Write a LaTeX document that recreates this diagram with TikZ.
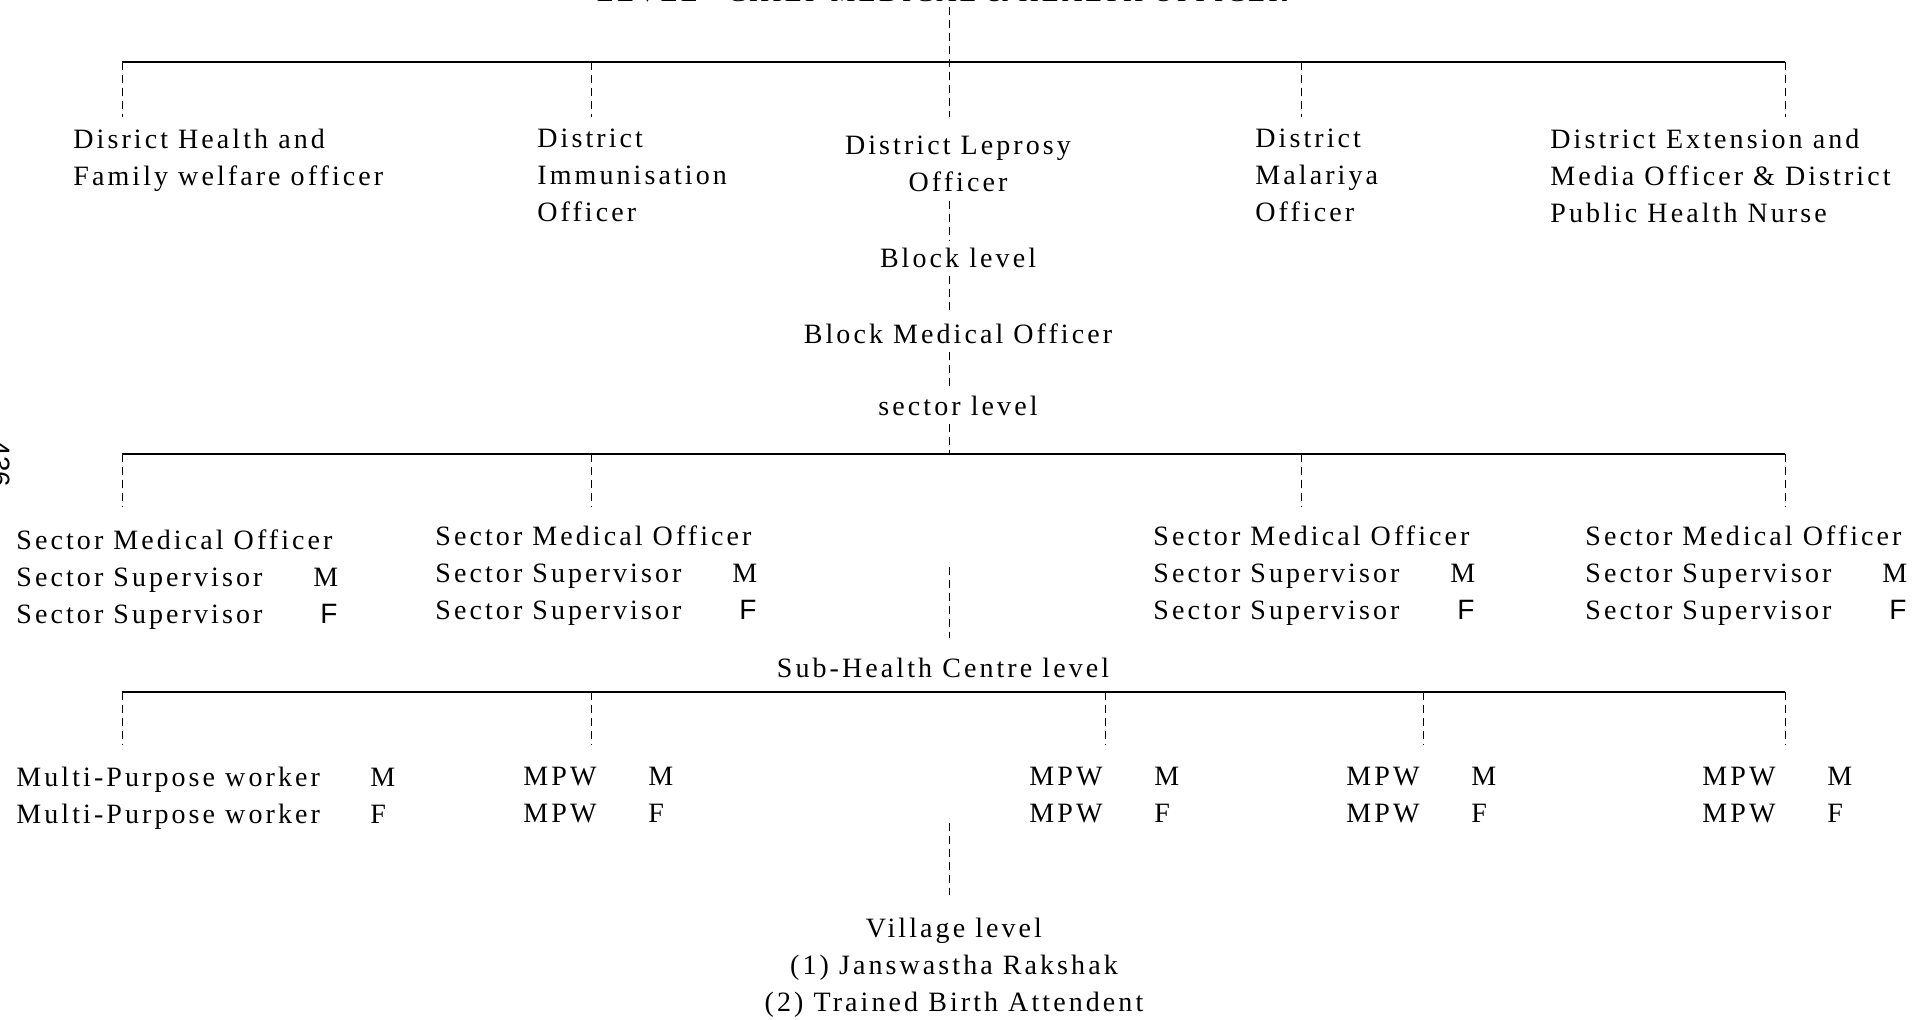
\documentclass[tikz,border=0pt]{standalone}
\usepackage{fontspec}
\setmainfont[LetterSpace=11]{Liberation Serif}
\newfontfamily\arialfont{Liberation Sans}

\begin{document}
\begin{tikzpicture}[x=0.5pt, y=-0.5pt,
    every node/.style={font=\fontsize{14}{18.5}\selectfont, inner sep=2pt},
    post/.style={align=left, anchor=north west},
    level/.style={align=center, anchor=north, inner sep=4pt},
    bus/.style={line width=0.8pt},
    drop/.style={dash pattern=on 4pt off 2.5pt, line width=0.5pt}]
\useasboundingbox (0,0) rectangle (1928,1020);
\coordinate (axis) at (949,0);

% district level
\node[anchor=base] (chief) at (942,2) {LEVEL - CHIEF MEDICAL \& HEALTH OFFICER};
\node[post] (dhfw) at (69,125) {Disrict Health and\\Family welfare officer};
\node[post] (dimm) at (533,125) {District\\Immunisation\\Officer};
\node[level] (dlep) at (958,128) {District Leprosy\\Officer};
\node[post] (dmal) at (1251,125) {District\\Malariya\\Officer};
\node[post] (dext) at (1546,125) {District Extension and\\Media Officer \& District\\Public Health Nurse};
\node[rotate=-90, font=\arialfont\fontsize{14}{16}\selectfont] (page) at (0,464) {436};

\coordinate (tl) at (122,62);
\coordinate (tr) at (1785,62);
\coordinate (d1) at (122,117);
\coordinate (d2) at (591,117);
\coordinate (d3) at (949,117);
\coordinate (d4) at (1301,117);
\coordinate (d5) at (1785,117);
\draw[bus] (tl) -- (tr);
\draw[drop] (tl) -- (d1);
\draw[drop] (tl -| d2) -- (d2);
\draw[drop] (tl -| d4) -- (d4);
\draw[drop] (tl -| d5) -- (d5);
\draw[drop] (chief.south -| axis) -- (d3);

% block level
\node[level] (blk) at (958,240) {Block level};
\node[level] (bmo) at (958,315) {Block Medical Officer};
\node[level] (sec) at (958,388) {sector level};
\draw[drop] (dlep.south -| axis) -- (blk.north -| axis);
\draw[drop] (blk.south -| axis) -- (bmo.north -| axis);
\draw[drop] (bmo.south -| axis) -- (sec.north -| axis);

% sector level
\coordinate (sl) at (122,454);
\coordinate (sr) at (1785,454);
\coordinate (e1) at (122,507);
\coordinate (e2) at (591,507);
\coordinate (e4) at (1301,507);
\coordinate (e5) at (1785,507);
\draw[bus] (sl) -- (sr);
\draw[drop] (sec.south -| axis) -- (sl -| axis);
\draw[drop] (sl) -- (e1);
\draw[drop] (sl -| e2) -- (e2);
\draw[drop] (sl -| e4) -- (e4);
\draw[drop] (sl -| e5) -- (e5);

\node[post] (s1) at (12,525) {Sector Medical Officer\\\makebox[148.5pt][l]{Sector Supervisor}M\\\makebox[152pt][l]{Sector Supervisor}{\arialfont F}};
\node[post] (s2) at (431,521) {Sector Medical Officer\\\makebox[148.5pt][l]{Sector Supervisor}M\\\makebox[152pt][l]{Sector Supervisor}{\arialfont F}};
\node[post] (s3) at (1149,521) {Sector Medical Officer\\\makebox[148.5pt][l]{Sector Supervisor}M\\\makebox[152pt][l]{Sector Supervisor}{\arialfont F}};
\node[post] (s4) at (1581,521) {Sector Medical Officer\\\makebox[148.5pt][l]{Sector Supervisor}M\\\makebox[152pt][l]{Sector Supervisor}{\arialfont F}};

% sub-health centre level
\coordinate (c1) at (949,567);
\coordinate (c2) at (949,638);
\draw[drop] (c1) -- (c2);
\node[level] (shc) at (943,650) {Sub-Health Centre level};

\coordinate (hl) at (122,692);
\coordinate (hr) at (1785,692);
\coordinate (f1) at (122,745);
\coordinate (f2) at (591,745);
\coordinate (f3) at (1105,745);
\coordinate (f4) at (1423,745);
\coordinate (f5) at (1785,745);
\draw[bus] (hl) -- (hr);
\draw[drop] (hl) -- (f1);
\draw[drop] (hl -| f2) -- (f2);
\draw[drop] (hl -| f3) -- (f3);
\draw[drop] (hl -| f4) -- (f4);
\draw[drop] (hl -| f5) -- (f5);

\node[post] (m1) at (12,763) {\makebox[177pt][l]{Multi-Purpose worker}M\\\makebox[177pt][l]{Multi-Purpose worker}F};
\node[post] (m2) at (519,763) {\makebox[62.5pt][l]{MPW}M\\\makebox[62.5pt][l]{MPW}F};
\node[post] (m3) at (1025,763) {\makebox[62.5pt][l]{MPW}M\\\makebox[62.5pt][l]{MPW}F};
\node[post] (m4) at (1342,763) {\makebox[62.5pt][l]{MPW}M\\\makebox[62.5pt][l]{MPW}F};
\node[post] (m5) at (1698,763) {\makebox[62.5pt][l]{MPW}M\\\makebox[62.5pt][l]{MPW}F};

% village level
\coordinate (v1) at (949,823);
\coordinate (v2) at (949,895);
\draw[drop] (v1) -- (v2);
\node[level] (vil) at (954,910) {Village level\\(1) Janswastha Rakshak\\(2) Trained Birth Attendent};
\end{tikzpicture}
\end{document}
